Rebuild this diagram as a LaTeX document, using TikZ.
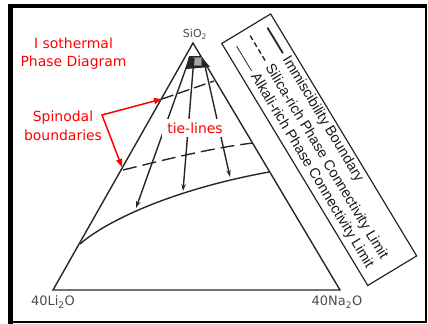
\documentclass[tikz,border=0pt]{standalone}
\usepackage{fontspec}
\setmainfont{DejaVu Sans}
\newfontfamily\legfont{Liberation Sans}
\usetikzlibrary{arrows.meta,calc}
\begin{document}
\begin{tikzpicture}[x=1bp,y=-1bp,
  ink/.style={draw=black!85, line width=1.4bp},
  redtxt/.style={text=red, font=\fontsize{14}{18}\selectfont, align=center, inner sep=0pt},
  redarrow/.style={draw=red, line width=1.5bp, {Triangle[length=8bp,width=6bp]}-{Triangle[length=8bp,width=6bp]}},
  tiearrow/.style={draw=black!85, line width=1.4bp, -{Stealth[length=7bp,width=4.5bp]}},
  dashcurve/.style={ink, dash pattern=on 14bp off 6bp},
  vlabel/.style={text=black!70, inner sep=0pt, font=\fontsize{13}{15}\selectfont},
  legtext/.style={font=\legfont\fontsize{14.5}{16}\selectfont, text=black!90, inner sep=0pt, anchor=west, rotate=-58.9},
]
\useasboundingbox (0,0) rectangle (428,324);
% frame
\draw[line width=4bp] (8,6.3) -- (427,6.3);
\draw[line width=5bp] (10.8,4.3) -- (10.8,323.5);
\draw[line width=2bp] (425.5,5) -- (425.5,322);
\draw[line width=2.5bp] (8.3,322) -- (427,322);
% triangle
\coordinate (apex) at (193,43);
\coordinate (bl) at (53,290);
\coordinate (br) at (340,290);
\draw[ink, line join=miter] (apex) -- (bl) -- (br) -- cycle;
\node[vlabel, font=\fontsize{11}{13}\selectfont] (sio2) at (195,34) {SiO\textsubscript{2}};
\node[vlabel] (li) at (53,302) {40Li\textsubscript{2}O};
\node[vlabel] (na) at (337,302) {40Na\textsubscript{2}O};
% lower solid curve
\coordinate (lc1) at (80,244);
\coordinate (lc5) at (269,172);
\draw[ink] (lc1) .. controls (105,222) and (170,190) .. (lc5);
% dashed curve
\coordinate (dc1) at (123,170);
\coordinate (dc4) at (253,143);
\draw[dashcurve] (dc1) .. controls (160,161) and (210,148) .. (dc4);
% upper dashed line
\coordinate (uc1) at (162,99);
\coordinate (uc2) at (214,81);
\draw[dashcurve, dash pattern=on 12bp off 5bp] (uc1) -- (uc2);
% blob near apex
\fill[black!85] (189,56) -- (201,56) -- (210,67) -- (186,69) -- cycle;
\draw[black!60, line width=0.8bp, fill=black!35] (193.5,57) rectangle (201.5,65);
% tie-lines
\coordinate (t1s) at (190,57);
\coordinate (t1e) at (136,208);
\coordinate (t2s) at (194,58);
\coordinate (t2e) at (183,191);
\coordinate (t3s) at (205,66);
\coordinate (t3e) at (230,177);
\draw[tiearrow] (t1s) -- (t1e);
\draw[tiearrow] (t2s) -- (t2e);
\draw[tiearrow] (t3s) -- (t3e);
\node[redtxt, fill=white, inner xsep=5bp, inner ysep=4bp] (tie) at (195,128) {tie-lines};
% red annotations
\node[redtxt] (iso) at (73.5,54) {I sothermal\\Phase Diagram};
\node[redtxt, font=\fontsize{14}{19}\selectfont] (spin) at (63,125.5) {Spinodal\\boundaries};
\coordinate (rc) at (102,115);
\coordinate (rt1) at (162,99);
\coordinate (rt2) at (122,167);
\draw[redarrow] (rt1) -- (rc) -- (rt2);
% legend
\begin{scope}[x={(0.516bp,-0.855bp)}, y={(0.855bp,0.516bp)}]
\coordinate (b1) at (152,167.6);
\coordinate (b2) at (435,167.6);
\coordinate (b3) at (435,224.8);
\coordinate (b4) at (152,224.8);
\draw[ink, line width=1.2bp] (b1) -- (b2) -- (b3) -- (b4) -- cycle;
\coordinate (s1a) at (162,215); \coordinate (s1b) at (192,215);
\coordinate (s2a) at (160,196); \coordinate (s2b) at (191,196);
\coordinate (s3a) at (162,179); \coordinate (s3b) at (191,179);
\draw[ink, line width=1.8bp] (s1a) -- (s1b);
\draw[ink, dash pattern=on 5bp off 3bp] (s2a) -- (s2b);
\draw[ink, line width=0.8bp] (s3a) -- (s3b);
\node[legtext] (leg1) at (197,215) {Immiscibility Boundary};
\node[legtext] (leg2) at (195,196) {Silica-rich Phase Connectivity Limit};
\node[legtext] (leg3) at (195,179) {Alkali-rich Phase Connectivity Limit};
\end{scope}
\end{tikzpicture}
\end{document}
